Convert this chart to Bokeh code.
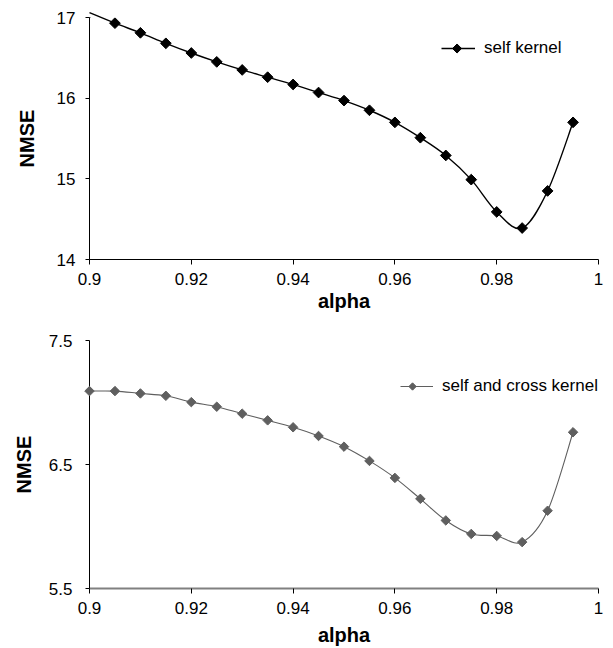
from bokeh.plotting import figure
from bokeh.layouts import column
from bokeh.models import FixedTicker, CustomJSTickFormatter, Legend, LegendItem, Range1d
from bokeh.embed import file_html
from bokeh.resources import INLINE
import math

# ---------------- data ----------------
alpha = [0.9, 0.905, 0.91, 0.915, 0.92, 0.925, 0.93, 0.935, 0.94, 0.945,
         0.95, 0.955, 0.96, 0.965, 0.97, 0.975, 0.98, 0.985, 0.99, 0.995]
nmse_self = [17.06, 16.93, 16.81, 16.68, 16.56, 16.45, 16.35, 16.26, 16.17, 16.07,
             15.97, 15.85, 15.70, 15.51, 15.29, 14.99, 14.59, 14.39, 14.85, 15.70]
nmse_cross = [7.092, 7.092, 7.073, 7.054, 7.003, 6.966, 6.910, 6.856, 6.800, 6.730,
              6.644, 6.529, 6.392, 6.223, 6.049, 5.940, 5.924, 5.874, 6.127, 6.760]
x_ticks = [0.9, 0.92, 0.94, 0.96, 0.98, 1.0]
y_ticks_self = [14, 15, 16, 17]
y_ticks_cross = [5.5, 6.5, 7.5]
label_self = "self kernel"
label_cross = "self and cross kernel"

FONT = "Liberation Sans"
W, H = 613, 324


def smooth(xs, ys):
    """Catmull-Rom style bezier segments (Excel-like smoothed line)."""
    n = len(xs)
    out = dict(x0=[], y0=[], x1=[], y1=[], cx0=[], cy0=[], cx1=[], cy1=[])
    for i in range(n - 1):
        im = max(i - 1, 0)
        ip2 = min(i + 2, n - 1)
        out["x0"].append(xs[i]); out["y0"].append(ys[i])
        out["x1"].append(xs[i + 1]); out["y1"].append(ys[i + 1])
        out["cx0"].append(xs[i] + (xs[i + 1] - xs[im]) / 6)
        out["cy0"].append(ys[i] + (ys[i + 1] - ys[im]) / 6)
        out["cx1"].append(xs[i + 1] - (xs[ip2] - xs[i]) / 6)
        out["cy1"].append(ys[i + 1] - (ys[ip2] - ys[i]) / 6)
    return out


def make_fig(ys, yticks, yr, color, lw, msize, label, borders, ystand, ylabstand,
             xaxis_color, xaxis_width, leg_loc, leg_gw, leg_msize, xlabstand,
             line_level, marker_level):
    left, right, top, bottom = borders
    p = figure(width=W, height=H, output_backend="svg", toolbar_location=None,
               x_range=Range1d(0.9, 1.0), y_range=Range1d(*yr),
               min_border_left=left, min_border_right=right,
               min_border_top=top, min_border_bottom=bottom)
    p.outline_line_color = None
    p.grid.visible = False
    p.background_fill_color = "white"
    # pixel ranges for the legend sample marker
    p.extra_x_ranges = {"px": Range1d(0, W - left - right)}
    p.extra_y_ranges = {"py": Range1d(0, H - top - bottom)}

    b = smooth(alpha, ys)
    r_line = p.bezier(x0=b["x0"], y0=b["y0"], x1=b["x1"], y1=b["y1"],
                      cx0=b["cx0"], cy0=b["cy0"], cx1=b["cx1"], cy1=b["cy1"],
                      line_color=color, line_width=lw, level=line_level)
    p.scatter(alpha, ys, marker="square", angle=math.pi / 4, size=msize,
              fill_color=color, line_color=color, level=marker_level)

    xa = p.xaxis[0]
    xa.ticker = FixedTicker(ticks=x_ticks)
    xa.formatter = CustomJSTickFormatter(code="return String(+tick.toFixed(4))")
    xa.axis_label = "alpha"
    xa.axis_label_text_font = FONT
    xa.axis_label_text_font_style = "bold"
    xa.axis_label_text_font_size = "20px"
    xa.axis_label_text_color = "black"
    xa.axis_label_standoff = xlabstand
    xa.major_label_text_font = FONT
    xa.major_label_text_font_size = "17px"
    xa.major_label_text_color = "black"
    xa.major_label_standoff = 8
    xa.major_tick_in = 0
    xa.major_tick_out = 5
    xa.minor_tick_out = 0
    xa.minor_tick_in = 0
    xa.axis_line_color = xaxis_color
    xa.axis_line_width = xaxis_width
    xa.major_tick_line_color = "black"

    ya = p.yaxis[0]
    ya.ticker = FixedTicker(ticks=yticks)
    ya.axis_label = "NMSE"
    ya.axis_label_text_font = FONT
    ya.axis_label_text_font_style = "bold"
    ya.axis_label_text_font_size = "20px"
    ya.axis_label_text_color = "black"
    ya.axis_label_standoff = ylabstand
    ya.major_label_text_font = FONT
    ya.major_label_text_font_size = "17px"
    ya.major_label_text_color = "black"
    ya.major_label_standoff = ystand
    ya.major_tick_in = 0
    ya.major_tick_out = 4
    ya.minor_tick_out = 0
    ya.minor_tick_in = 0
    ya.axis_line_color = "black"
    ya.major_tick_line_color = "black"

    leg = Legend(items=[LegendItem(label=label, renderers=[r_line])],
                 location=leg_loc, padding=0, margin=0, spacing=0,
                 glyph_width=leg_gw, glyph_height=20, label_height=20,
                 label_standoff=9, label_text_font=FONT, label_text_font_size="17px",
                 label_text_color="black",
                 border_line_color=None, background_fill_alpha=0)
    p.add_layout(leg)
    # diamond marker of the legend sample, centred on the legend line
    p.scatter([leg_loc[0] + leg_gw / 2], [leg_loc[1] + 10], marker="square",
              angle=math.pi / 4, size=leg_msize, fill_color=color, line_color=color,
              x_range_name="px", y_range_name="py", level="overlay")
    return p


p1 = make_fig(nmse_self, y_ticks_self, (14, 17), "#000000", 1.4, 7.6, label_self,
              (87, 15, 17, 65), 10, 16, "black", 1, (352, 201), 34, 6.4, 2,
              "overlay", "glyph")
p2 = make_fig(nmse_cross, y_ticks_cross, (5.5, 7.5), "#5f5f5f", 1.1, 6.7, label_cross,
              (89, 8, 16, 60), 13, 11, "#808080", 2, (311, 192), 33, 5.2, 7,
              "glyph", "overlay")

layout = column(p1, p2, spacing=0)
open("out.html", "w").write(file_html(layout, INLINE))
